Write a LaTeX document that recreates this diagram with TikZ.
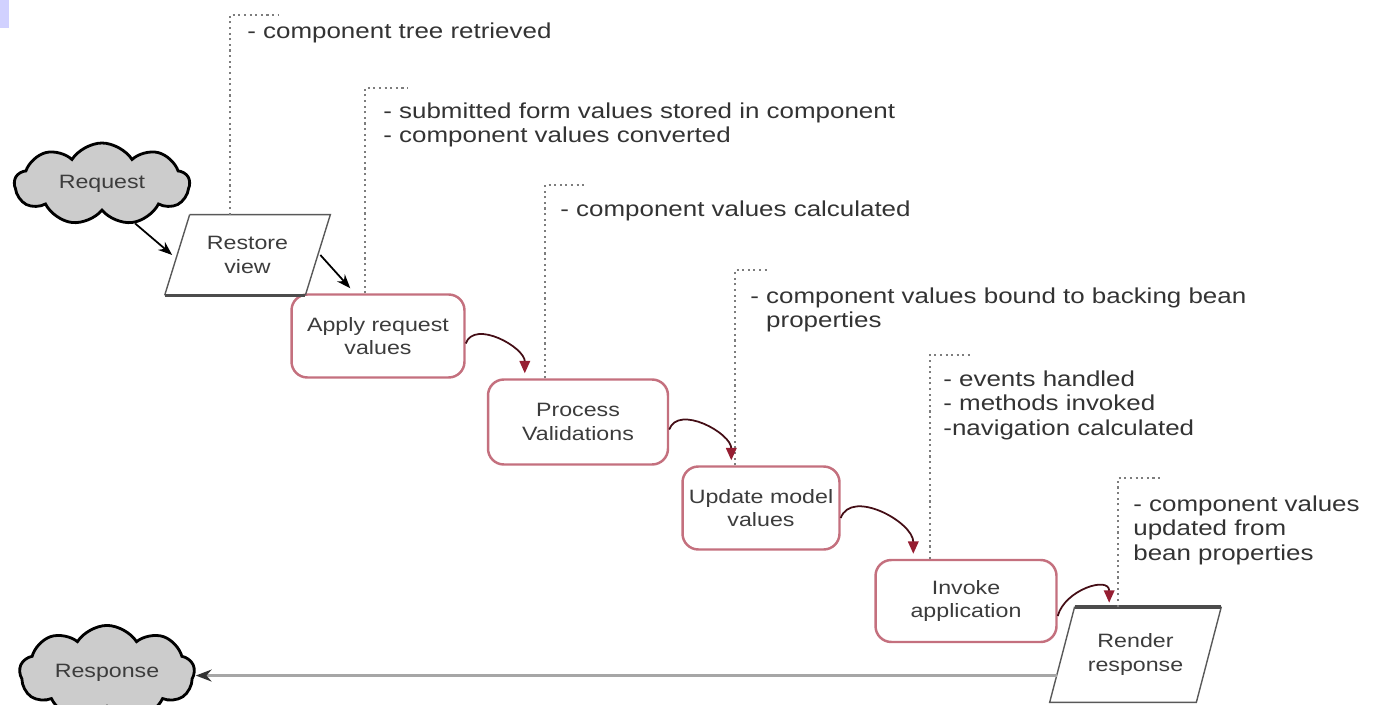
\documentclass[tikz,border=0pt]{standalone}
\usepackage{fontspec}
\setmainfont{Liberation Sans}[FakeStretch=1.2]
\usetikzlibrary{shapes.symbols,arrows.meta,calc}

\definecolor{boxred}{RGB}{196,112,126}
\definecolor{arcred}{RGB}{150,30,50}
\definecolor{notegray}{RGB}{125,125,125}
\definecolor{txtgray}{RGB}{60,60,60}

\tikzset{
  phase/.style={draw=boxred, line width=1.4pt, rounded corners=9pt, fill=white,
    align=center, font=\fontsize{11}{13.5}\selectfont, text=txtgray, inner sep=2pt},
  slanted/.style={align=center, font=\fontsize{11}{13.5}\selectfont, text=txtgray, inner sep=1pt},
  slantline/.style={draw=black!65, line width=0.8pt},
  puff/.style={cloud, cloud puffs=9, cloud puff arc=115, aspect=2.4, draw=black,
    line width=1.6pt, fill=black!20, font=\fontsize{11}{13}\selectfont, text=txtgray},
  note/.style={anchor=north west, align=left, inner sep=0pt, text=black!80,
    font=\fontsize{12.3}{14.2}\selectfont},
  noteline/.style={draw=notegray, dotted, line width=1.2pt},
  flow/.style={draw=black!55!arcred, line width=1pt,
    -{Triangle[length=7pt,width=6pt,color=arcred]}},
  blk/.style={black, line width=1pt, -{Stealth[length=8pt]}},
  back/.style={draw=black!35, line width=2.2pt, -{Stealth[length=9pt,color=black!80]}}
}

\begin{document}
\begin{tikzpicture}[x=0.02cm,y=-0.02cm]
  \useasboundingbox (0,0) rectangle (1385,705);
  \fill[blue!18] (0,0) rectangle (9,28);

  % the phases
  \node[puff, minimum width=3.5cm, minimum height=1.64cm] (req) at (102,184) {Request};
  \node[slanted, minimum width=2.8cm, minimum height=1.6cm] (restore) at (247.5,255) {Restore\\view};
  \node[phase, minimum width=3.46cm, minimum height=1.66cm] (apply) at (378,336) {Apply request\\values};
  \node[phase, minimum width=3.6cm, minimum height=1.7cm] (process) at (578,422) {Process\\Validations};
  \node[phase, minimum width=3.14cm, minimum height=1.66cm] (update) at (761,508) {Update model\\values};
  \node[phase, minimum width=3.62cm, minimum height=1.64cm] (invoke) at (966,601) {Invoke\\application};
  \node[slanted, minimum width=2.92cm, minimum height=1.9cm] (render) at (1135.5,654.5) {Render\\response};
  \node[puff, minimum width=3.5cm, minimum height=1.22cm] (resp) at (107,673) {Response};

  % slanted outlines
  \draw[slantline] ([xshift=0.25cm]restore.north west) -- ([xshift=0.25cm]restore.north east)
    -- ([xshift=-0.25cm]restore.south east);
  \draw[slantline] ([xshift=-0.25cm]restore.south west) -- ([xshift=0.25cm]restore.north west);
  \draw[line width=1.8pt, black!70] ([xshift=-0.25cm]restore.south west) -- ([xshift=-0.25cm]restore.south east);
  \draw[slantline] ([xshift=0.25cm]render.north east) -- ([xshift=-0.25cm]render.south east)
    -- ([xshift=-0.25cm]render.south west) -- ([xshift=0.25cm]render.north west);
  \draw[line width=2.2pt, black!70] ([xshift=0.25cm]render.north west) -- ([xshift=0.25cm]render.north east);

  % notes
  \node[note] (nrestore) at (247,22) {- component tree retrieved};
  \node[note] (napply) at (383,102) {- submitted form values stored in component\\- component values converted};
  \node[note] (nprocess) at (560,200) {- component values calculated};
  \node[note] (nupdate) at (750,287) {- component values bound to backing bean\\\hphantom{- }properties};
  \node[note] (ninvoke) at (943,370) {- events handled\\- methods invoked\\-navigation calculated};
  \node[note] (nrender) at (1133,495) {- component values\\updated from\\bean properties};

  \coordinate (crestore) at (230,15);
  \coordinate (capply) at (365,88);
  \coordinate (cprocess) at (545,185);
  \coordinate (cupdate) at (735,270);
  \coordinate (cinvoke) at (930,355);
  \coordinate (crender) at (1118,478);
  \draw[noteline] (crestore |- restore.north) -- (crestore) -- ++(48,0);
  \draw[noteline] (capply |- apply.north) -- (capply) -- ++(43,0);
  \draw[noteline] (cprocess |- process.north) -- (cprocess) -- ++(40,0);
  \draw[noteline] (cupdate |- update.north) -- (cupdate) -- ++(35,0);
  \draw[noteline] (cinvoke |- invoke.north) -- (cinvoke) -- ++(40,0);
  \draw[noteline] (crender |- render.north) -- (crender) -- ++(42,0);

  % arrows
  \draw[blk] (req.-50) -- ([xshift=-0.1cm]restore.west);
  \draw[blk] ([xshift=0.05cm]restore.east) -- ($(apply.north west)+(60,-5)$);
  \draw[flow] ([yshift=-0.15cm]apply.east) to[out=70,in=90] ($(process.north west)+(38,-5)$);
  \draw[flow] ([yshift=-0.15cm]process.east) to[out=70,in=90] ($(update.north west)+(50,-5)$);
  \draw[flow] ([yshift=-0.2cm]update.east) to[out=70,in=90] ($(invoke.north west)+(39,-5)$);
  \draw[flow] ([yshift=-0.3cm]invoke.east) to[out=75,in=90,looseness=1.3] ($(render.north west)+(47,-4)$);
  \coordinate (rl) at ($(render.south west)!0.28!(render.north west)+(-5,0)$);
  \draw[back] (rl) -- (rl -| resp.east);
\end{tikzpicture}
\end{document}
